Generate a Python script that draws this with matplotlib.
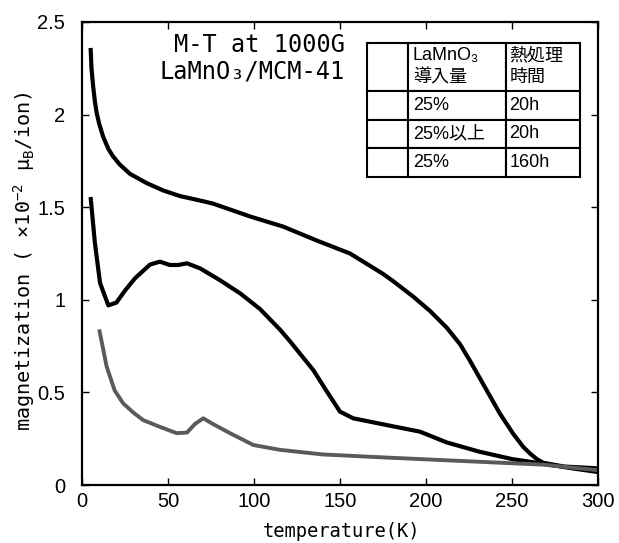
import matplotlib
matplotlib.use("Agg")
import matplotlib.pyplot as plt
from matplotlib import font_manager

# ---------------- data ----------------
T1 = [5, 5.5, 6.5, 7.5, 8.5, 10, 12.3, 15.3, 18, 22, 27.9, 37.6, 47.3, 57, 66.7, 76,
      97.7, 117, 136.5, 155.8, 175, 181, 192.6, 202.3, 212, 219.8, 225.6, 231.4,
      237.2, 243, 250.8, 256.6, 260.5, 264.4, 268.2, 280, 300]
M1 = [2.36, 2.25, 2.15, 2.07, 2.01, 1.95, 1.88, 1.815, 1.775, 1.73, 1.68, 1.63, 1.59,
      1.56, 1.54, 1.52, 1.45, 1.395, 1.32, 1.25, 1.14, 1.10, 1.017, 0.94, 0.85,
      0.76, 0.67, 0.575, 0.48, 0.385, 0.275, 0.205, 0.17, 0.14, 0.12, 0.10, 0.09]

T2 = [5, 7.5, 10.5, 15.3, 20, 25, 30.8, 39.5, 45.3, 51, 56, 61, 68.6, 80, 91.9, 103.5,
      115, 121, 134.5, 142, 150, 157.7, 177, 196.5, 212, 231, 250, 268, 285, 300]
M2 = [1.555, 1.305, 1.09, 0.97, 0.985, 1.05, 1.116, 1.19, 1.206, 1.188, 1.188, 1.197,
      1.17, 1.107, 1.035, 0.95, 0.84, 0.775, 0.62, 0.51, 0.396, 0.36, 0.324, 0.288,
      0.23, 0.18, 0.14, 0.115, 0.09, 0.07]

T3 = [10, 14.3, 19, 24, 30, 35.6, 45, 55, 61, 65.7, 70.5, 76, 86, 99.6, 115, 140,
      173, 220, 268, 300]
M3 = [0.84, 0.64, 0.51, 0.44, 0.39, 0.35, 0.315, 0.28, 0.283, 0.33, 0.36, 0.33,
      0.28, 0.216, 0.19, 0.165, 0.15, 0.13, 0.11, 0.08]

x_ticks = [0, 50, 100, 150, 200, 250, 300]
y_ticks = [0, 0.5, 1, 1.5, 2, 2.5]
y_tick_labels = ["0", "0.5", "1", "1.5", "2", "2.5"]

table_header = ["", "LaMnO\u2083\n導入量", "熱処理\n時間"]
table_amount = ["25%", "25%以上", "25%"]
table_time = ["20h", "20h", "160h"]

title_lines = ["M-T at 1000G", "LaMnO\u2083/MCM-41"]
xlabel = "temperature(K)"
ylabel = r"magnetization ( ×10$^{-2}$ μ$_{\mathrm{B}}$/ion)"

# ---------------- fonts ----------------
names = {f.name for f in font_manager.fontManager.ttflist}
if "Noto Sans Mono CJK JP" in names:
    MONO = "Noto Sans Mono CJK JP"
    k = 1.2
else:
    MONO = "DejaVu Sans Mono"
    k = 1.0
plt.rcParams["mathtext.fontset"] = "custom"
plt.rcParams["mathtext.rm"] = MONO
plt.rcParams["mathtext.it"] = MONO
plt.rcParams["mathtext.bf"] = MONO
plt.rcParams["font.family"] = [MONO, "DejaVu Sans"]
TICK_FONT = ["Liberation Sans", "DejaVu Sans"]
TABLE_FONT = ["Liberation Sans", "Noto Sans CJK JP", "DejaVu Sans"]

# ---------------- figure ----------------
fig = plt.figure(figsize=(6.19, 5.43), dpi=100)
ax = fig.add_axes([0.1325, 0.1068, 0.8336, 0.8527])

ax.plot(T1, M1, color="black", lw=3.0, solid_capstyle="butt", solid_joinstyle="round")
ax.plot(T2, M2, color="black", lw=3.0, solid_capstyle="butt", solid_joinstyle="round")
ax.plot(T3, M3, color="#5a5a5a", lw=2.8, solid_capstyle="butt", solid_joinstyle="round")

ax.set_xlim(0, 300)
ax.set_ylim(0, 2.5)
ax.set_xticks(x_ticks)
ax.set_xticklabels([str(v) for v in x_ticks])
ax.set_yticks(y_ticks)
ax.set_yticklabels(y_tick_labels)
ax.tick_params(direction="in", length=5, width=1.0, top=True, right=True,
               labelsize=14.5)
ax.tick_params(axis="x", pad=5)
ax.tick_params(axis="y", pad=12)
for lab in ax.get_xticklabels() + ax.get_yticklabels():
    lab.set_fontfamily(TICK_FONT)
for s in ax.spines.values():
    s.set_linewidth(1.6)

ax.set_xlabel(xlabel, fontsize=13.5 * k)
ax.set_ylabel(ylabel, fontsize=14.5 * k)
ax.yaxis.set_label_coords(-0.087, 0.483)
ax.xaxis.set_label_coords(0.503, -0.079)

ax.text(0.51, 0.950, title_lines[0], transform=ax.transAxes, ha="right",
        va="center", fontsize=17 * k)
ax.text(0.51, 0.894, title_lines[1], transform=ax.transAxes, ha="right",
        va="center", fontsize=17 * k)

# ---------------- table ----------------
cell_text = [table_header] + [["", a, t] for a, t in zip(table_amount, table_time)]
tbl = ax.table(cellText=cell_text, colWidths=[41, 98, 74], cellLoc="left",
               bbox=[0.552, 0.665, 0.413, 0.29])
tbl.auto_set_font_size(False)
for (r, c), cell in tbl.get_celld().items():
    cell.set_linewidth(1.5)
    cell.set_edgecolor("black")
    cell.PAD = 0.05
    cell.set_height(48 if r == 0 else 28.7)
    txt = cell.get_text()
    txt.set_fontfamily(TABLE_FONT)
    txt.set_fontsize(13)
    if r == 0:
        txt.set_linespacing(1.4)

fig.savefig("out.png", dpi=100)
